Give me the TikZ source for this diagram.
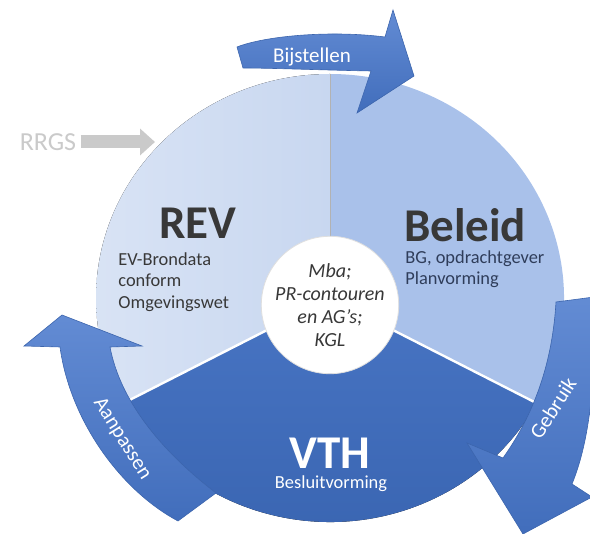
\documentclass[tikz,border=0pt]{standalone}
\usepackage{fontspec}
\setmainfont{Carlito}
\usetikzlibrary{arrows.meta}
\definecolor{revblue}{HTML}{C8D7F0}
\definecolor{beleidblue}{HTML}{A9C1EA}
\definecolor{vthblue}{HTML}{3E6DC0}
\definecolor{arrowblue}{HTML}{4777CC}
\definecolor{darktext}{HTML}{383838}
\definecolor{beleidtext}{HTML}{2F3D5A}
\definecolor{rrgsgray}{HTML}{CACACA}

\begin{document}
\begin{tikzpicture}[x=0.5pt,y=-0.5pt,
  cyclearrow/.style={top color=arrowblue!85!white, bottom color=arrowblue!92!black,
    draw=arrowblue!85!black, line width=0.3pt},
  heading/.style={font=\bfseries\fontsize{23.5}{26}\selectfont, inner sep=0pt},
  subtext/.style={font=\fontsize{9.2}{10.8}\selectfont, align=left, inner sep=0pt},
  arrowlabel/.style={font=\fontsize{10.5}{12}\selectfont, text=white, inner sep=0pt}]
\useasboundingbox (0,0) rectangle (590,534);
\coordinate (O) at (330,298);

% pie segments
\fill[left color=revblue!70!white, right color=revblue] (O) -- ++(-90:234 and 224)
  arc[start angle=-90, end angle=-208, x radius=234, y radius=224] -- cycle;
\fill[beleidblue] (O) -- ++(28:234 and 224) arc[start angle=28, end angle=-90, x radius=234, y radius=224] -- cycle;
\fill[top color=vthblue!95!white, bottom color=vthblue!92!black] (O) -- ++(-208:234 and 224)
  arc[start angle=-208, end angle=-332, x radius=234, y radius=224] -- cycle;
\draw[white, line width=1.2pt] (O) -- ++(-208:234 and 224);
\draw[white, line width=1.2pt] (O) -- ++(28:234 and 224);
\draw[gray!60, line width=0.4pt] (O) -- ++(-90:234 and 224);

% cycle arrows
\path[cyclearrow] (237,47) .. controls (265,36) and (330,30) .. (385,37) -- (393,10) -- (414,76)
  -- (357,113) -- (371,71) .. controls (320,70) and (270,68) .. (243,68) -- cycle;
\path[cyclearrow] (556,302) -- (594,297) .. controls (596,380) and (590,440) .. (572,484) -- (592,497)
  -- (523,534) -- (467,443) -- (503,458) .. controls (530,420) and (552,370) .. (556,302) -- cycle;
\path[cyclearrow] (178,521) -- (216,493) .. controls (160,450) and (120,400) .. (110,347) -- (142,346)
  -- (62,315) -- (24,346) -- (60,347) .. controls (70,420) and (120,490) .. (178,521) -- cycle;

% centre
\node[circle, fill=white, draw=gray!25, minimum size=67pt, inner sep=0pt, align=center,
  font=\itshape\fontsize{10}{11.5}\selectfont, text=darktext] (core) at (330,305)
  {Mba;\\PR-contouren\\en AG's;\\KGL};

% labels
\node[heading, text=darktext] (rev) at (198,223) {REV};
\node[subtext, text=darktext, anchor=west] (revsub) at (118,282) {EV-Brondata\\conform\\Omgevingswet};
\node[heading, text=darktext] (beleid) at (465,225) {Beleid};
\node[subtext, text=beleidtext, anchor=west] (beleidsub) at (405,269) {BG, opdrachtgever\\Planvorming};
\node[heading, text=white] (vth) at (330,453) {VTH};
\node[subtext, text=white] (besluit) at (331,484) {Besluitvorming};
\node[arrowlabel] (bijstellen) at (312,57) {Bijstellen};
\node[arrowlabel, rotate=57] (gebruik) at (553,408) {Gebruik};
\node[arrowlabel, rotate=-58] (aanpassen) at (122,439) {Aanpassen};

% RRGS
\node[font=\fontsize{13}{15}\selectfont, text=rrgsgray, inner sep=0pt] (rrgs) at (48,142) {RRGS};
\coordinate (rrgstip) at (155,142);
\draw[rrgsgray, line width=6.5pt, -{Triangle[length=7.5pt,width=13pt]}] ([xshift=2pt]rrgs.east) -- (rrgstip);
\end{tikzpicture}
\end{document}
